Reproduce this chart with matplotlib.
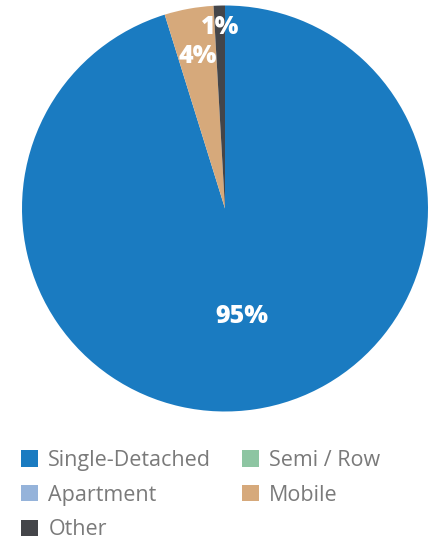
import numpy as np
import matplotlib
matplotlib.use("Agg")
import matplotlib.pyplot as plt
from matplotlib.patches import Patch

categories = ["Single-Detached", "Semi / Row", "Apartment", "Mobile", "Other"]
values = [95.2, 0.0, 0.0, 3.9, 0.9]
labels = ["95%", "", "", "4%", "1%"]
colors = ["#1a7bc1", "#8dc5a2", "#95b3da", "#d6a97b", "#444549"]
label_dist = [0.54, 0.6, 0.6, 0.76, 0.89]

plt.rcParams['font.family'] = ['Open Sans', 'DejaVu Sans']

fig = plt.figure(figsize=(4.37, 5.41), dpi=100)
W, H = 437, 541
cx, cy, r = 225, 208.5, 203
ax = fig.add_axes([(cx - r) / W, (H - cy - r) / H, 2 * r / W, 2 * r / H])
wedges, _ = ax.pie(values, colors=colors, startangle=90, counterclock=False,
                   radius=1, wedgeprops=dict(linewidth=0))
ax.set_xlim(-1, 1)
ax.set_ylim(-1, 1)
ax.set_aspect('equal')
ax.axis('off')

for w, lab, d in zip(wedges, labels, label_dist):
    if not lab:
        continue
    ang = np.deg2rad((w.theta1 + w.theta2) / 2)
    ax.text(d * np.cos(ang), d * np.sin(ang), lab, color='white',
            fontsize=18, fontweight='heavy', ha='center', va='center')

handles = [Patch(facecolor=c, edgecolor='none') for c in colors]
order = [0, 2, 4, 1, 3]
leg = fig.legend([handles[i] for i in order], [categories[i] for i in order],
                 ncol=2, loc='upper left', bbox_to_anchor=(0.029, 1 - 441.5 / H),
                 frameon=False, fontsize=15.5, labelcolor='#7a7a7a',
                 handlelength=0.79, handleheight=0.79, handletextpad=0.47,
                 columnspacing=1.4, labelspacing=0.63, borderaxespad=0)

fig.savefig("out.png", dpi=100)
